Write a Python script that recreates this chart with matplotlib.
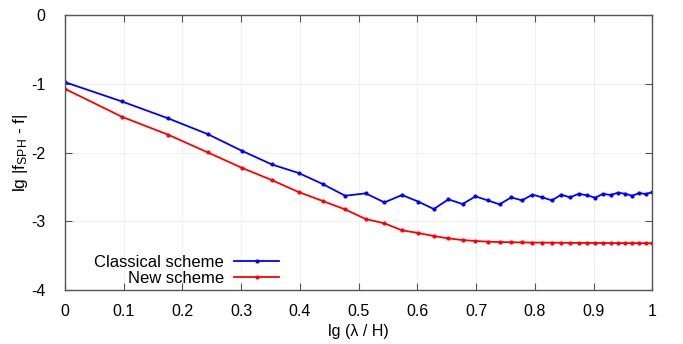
import matplotlib
matplotlib.use("Agg")

import matplotlib.pyplot as plt

plt.rcParams.update({
    "font.family": ["Liberation Sans", "DejaVu Sans"],
    "font.size": 11.5,
    "axes.unicode_minus": False,
    "mathtext.default": "regular",
})

# lg(lambda / H) for lambda/H = 1, 1.25, ..., 10
lg_ratio = [0.0, 0.097, 0.176, 0.243, 0.301, 0.352, 0.398, 0.439, 0.477, 0.512,
            0.544, 0.574, 0.602, 0.628, 0.653, 0.677, 0.699, 0.720, 0.740, 0.760,
            0.778, 0.796, 0.813, 0.829, 0.845, 0.860, 0.875, 0.889, 0.903, 0.916,
            0.929, 0.942, 0.954, 0.966, 0.978, 0.989, 1.0]

classical = [-0.975, -1.256, -1.503, -1.731, -1.973, -2.172, -2.298, -2.458, -2.628, -2.594,
             -2.725, -2.618, -2.715, -2.822, -2.681, -2.749, -2.638, -2.696, -2.754, -2.652,
             -2.696, -2.613, -2.652, -2.696, -2.613, -2.652, -2.600, -2.623, -2.657, -2.600,
             -2.618, -2.584, -2.600, -2.628, -2.589, -2.604, -2.575]

new = [-1.072, -1.479, -1.741, -1.997, -2.221, -2.400, -2.575, -2.705, -2.827, -2.967,
       -3.030, -3.132, -3.171, -3.215, -3.249, -3.273, -3.287, -3.297, -3.302, -3.305,
       -3.308, -3.310, -3.311, -3.312, -3.313, -3.314, -3.315, -3.315, -3.316, -3.316,
       -3.317, -3.317, -3.318, -3.318, -3.318, -3.319, -3.319]

fig = plt.figure(figsize=(6.83, 3.44), dpi=100)
ax = fig.add_axes([0.095, 0.157, 0.86, 0.799])

ax.plot(lg_ratio, classical, color="#0000ff", lw=1.3, marker="o", ms=2.0,
        label="Classical scheme")
ax.plot(lg_ratio, new, color="#ff0000", lw=1.3, marker="o", ms=2.0,
        label="New scheme")

ax.set_xlim(0, 1)
ax.set_ylim(-4, 0)
ax.set_xticks([0, 0.1, 0.2, 0.3, 0.4, 0.5, 0.6, 0.7, 0.8, 0.9, 1])
ax.set_xticklabels(["0", "0.1", "0.2", "0.3", "0.4", "0.5", "0.6", "0.7", "0.8", "0.9", "1"])
ax.set_yticks([0, -1, -2, -3, -4])
ax.set_yticklabels(["0", "-1", "-2", "-3", "-4"])

ax.tick_params(direction="in", top=True, right=True, length=5, width=0.8,
               color="#555555", labelsize=11.5)
ax.tick_params(axis="x", pad=10)
ax.tick_params(axis="y", pad=14)
for s in ax.spines.values():
    s.set_color("#555555")
    s.set_linewidth(1.0)

ax.grid(True, color="#eeeeee", lw=0.6)
ax.set_axisbelow(True)

ax.set_xlabel("lg (λ / H)", fontsize=11.5, labelpad=4)
ax.set_ylabel("lg |f$_{SPH}$ - f|", fontsize=12.5, labelpad=1)

leg = ax.legend(loc="center right", bbox_to_anchor=(0.3646, 0.072), frameon=False,
                markerfirst=False, fontsize=12, handlelength=2.7, handletextpad=0.6,
                labelspacing=0.05, borderpad=0.0, borderaxespad=0.0)
for t in leg.get_texts():
    t.set_ha("right")
leg._legend_box.align = "right"

fig.savefig("out.png", dpi=100)
